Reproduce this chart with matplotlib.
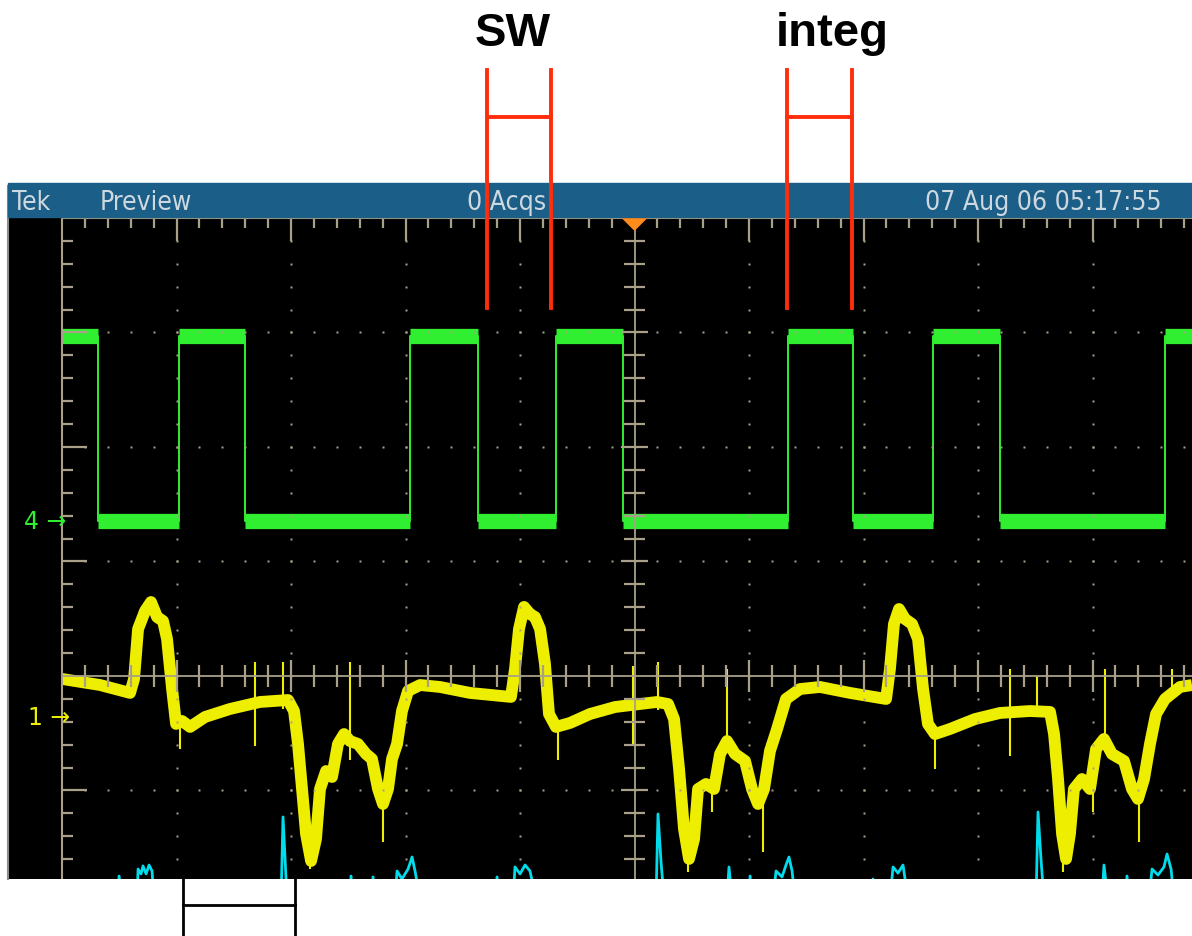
import numpy as np
import matplotlib.pyplot as plt
from matplotlib.patches import Rectangle, Polygon
from matplotlib.collections import LineCollection

# all positions in screen divisions: time 0..10 left to right, volts 0 on the centre line
# channel 4 (green) square wave, edge times, starts high
ch4_edges = [0.317, 1.022, 1.598, 3.039, 3.633, 4.314, 4.900, 6.341, 6.908, 7.607, 8.192, 9.633]
ch4_high = 2.97
ch4_low = 1.35

# channel 1 (yellow) trace
ch1_t = [0.0, 0.332, 0.594, 0.629, 0.664, 0.725, 0.777, 0.830, 0.882, 0.917, 0.961, 0.996,
         1.048, 1.118, 1.249, 1.467, 1.729, 1.974, 2.026, 2.061, 2.096, 2.131, 2.175, 2.218,
         2.253, 2.306, 2.358, 2.410, 2.463, 2.515, 2.585, 2.655, 2.707, 2.760, 2.803, 2.847,
         2.882, 2.926, 2.969, 3.022, 3.127, 3.301, 3.563, 3.921, 3.956, 3.991, 4.035, 4.087,
         4.131, 4.175, 4.218, 4.253, 4.314, 4.437, 4.611, 4.830, 4.978, 5.197, 5.293, 5.345,
         5.389, 5.432, 5.476, 5.520, 5.555, 5.624, 5.694, 5.747, 5.808, 5.878, 5.965, 6.026,
         6.079, 6.131, 6.183, 6.245, 6.323, 6.445, 6.620, 6.882, 7.197, 7.231, 7.266, 7.310,
         7.362, 7.424, 7.476, 7.520, 7.563, 7.624, 7.755, 7.974, 8.192, 8.454, 8.629, 8.664,
         8.699, 8.734, 8.769, 8.803, 8.838, 8.908, 8.978, 9.031, 9.100, 9.170, 9.275, 9.345,
         9.397, 9.450, 9.502, 9.555, 9.633, 9.764, 9.869]
ch1_v = [-0.026, -0.079, -0.148, -0.026, 0.410, 0.568, 0.646, 0.515, 0.480, 0.323, -0.114, -0.419,
         -0.393, -0.445, -0.358, -0.288, -0.227, -0.210, -0.306, -0.594, -0.987, -1.380, -1.616, -1.424,
         -0.987, -0.830, -0.882, -0.594, -0.507, -0.568, -0.594, -0.681, -0.725, -0.987, -1.118, -0.987,
         -0.725, -0.594, -0.306, -0.131, -0.079, -0.096, -0.148, -0.183, 0.061, 0.410, 0.603, 0.541,
         0.515, 0.410, 0.105, -0.332, -0.445, -0.410, -0.332, -0.271, -0.253, -0.227, -0.245, -0.376,
         -0.812, -1.336, -1.598, -1.424, -0.987, -0.943, -0.987, -0.681, -0.568, -0.681, -0.742, -0.987,
         -1.118, -0.987, -0.655, -0.463, -0.201, -0.114, -0.096, -0.148, -0.201, 0.061, 0.454, 0.585,
         0.498, 0.454, 0.323, -0.114, -0.419, -0.507, -0.463, -0.376, -0.323, -0.306, -0.314, -0.507,
         -0.900, -1.380, -1.598, -1.380, -0.987, -0.900, -0.987, -0.638, -0.550, -0.681, -0.742, -0.987,
         -1.074, -0.900, -0.594, -0.332, -0.201, -0.096, -0.079]

# noise spikes on channel 1: time, top, bottom
spike_t = [1.031, 1.686, 1.930, 2.166, 2.515, 2.803, 4.332, 4.987, 5.205, 5.467, 5.677,
           5.808, 6.122, 7.624, 8.279, 8.515, 8.742, 9.004, 9.109, 9.406, 9.694]
spike_top = [-0.40, 0.12, 0.12, -1.40, 0.12, -1.10, -0.45, 0.09, 0.12, -1.40, -0.95,
             0.06, -1.00, -0.50, 0.06, 0.00, -1.40, -0.95, 0.06, -1.07, 0.06]
spike_bot = [-0.64, -0.61, -0.29, -1.69, -0.73, -1.45, -0.73, -0.61, -0.30, -1.71, -1.19,
             -0.60, -1.54, -0.81, -0.70, -0.33, -1.71, -1.19, -0.60, -1.45, -0.20]

# third channel (cyan), mostly below the visible part of the screen
ch3_t = [0.0, 0.489, 0.498, 0.524, 0.655, 0.664, 0.690, 0.707, 0.734, 0.760, 0.786, 0.803,
         1.913, 1.930, 1.948, 1.965, 2.515, 2.524, 2.541, 2.707, 2.716, 2.734,
         2.908, 2.926, 2.969, 3.022, 3.057, 3.083, 3.127, 3.790, 3.799, 3.817,
         3.939, 3.956, 4.000, 4.044, 4.087, 4.140, 5.188, 5.205, 5.231, 5.258,
         5.808, 5.825, 5.852, 6.000, 6.009, 6.026, 6.210, 6.236, 6.288, 6.323, 6.349, 6.376, 6.402,
         7.074, 7.083, 7.100, 7.231, 7.258, 7.301, 7.345, 7.389, 8.507, 8.524, 8.550, 8.576,
         9.083, 9.100, 9.135, 9.293, 9.301, 9.319, 9.493, 9.520, 9.572, 9.624, 9.651, 9.686, 9.712, 9.869]
ch3_v = [-1.95, -1.95, -1.747, -1.95, -1.95, -1.686, -1.729, -1.659, -1.729, -1.651, -1.703, -1.95,
         -1.95, -1.231, -1.598, -1.95, -1.95, -1.747, -1.95, -1.95, -1.755, -1.95,
         -1.95, -1.703, -1.773, -1.686, -1.581, -1.703, -1.95, -1.95, -1.755, -1.95,
         -1.95, -1.668, -1.729, -1.651, -1.703, -1.95, -1.95, -1.205, -1.616, -1.95,
         -1.95, -1.668, -1.95, -1.95, -1.747, -1.95, -1.95, -1.703, -1.755, -1.651, -1.581, -1.703, -1.95,
         -1.95, -1.773, -1.95, -1.95, -1.668, -1.721, -1.651, -1.95, -1.95, -1.188, -1.598, -1.95,
         -1.95, -1.651, -1.95, -1.95, -1.747, -1.95, -1.95, -1.686, -1.738, -1.668, -1.555, -1.686, -1.95, -1.95]

ch4_marker = 1.354
ch1_marker = -0.358

# annotation spans (in divisions)
sw_span = [3.712, 4.271]
integ_span = [6.332, 6.897]
label_x = [3.94, 6.725]
bottom_span = [1.057, 2.035]

header = ["Tek", "Preview", "0 Acqs", "07 Aug 06 05:17:55"]
header_x = [-0.437, 0.332, 3.537, 7.537]

grat = '#a8a088'
green = '#30ee30'
yellow = '#eeee00'
cyan = '#00dcec'
red = '#ff2d0a'
hfont = ['DejaVu Sans']

fig = plt.figure(figsize=(11.92, 9.37), dpi=100)
ax = fig.add_axes([8/1192, 57/937, 1184/1192, 693/937])
ax.set_facecolor('black')
ax.set_xlim(-0.472, 9.869)
ax.set_ylim(-1.773, 4.279)
ax.set_xticks([])
ax.set_yticks([])
for s in ['top', 'right', 'bottom']:
    ax.spines[s].set_visible(False)
ax.spines['left'].set_color('#8c8c8c')
ax.spines['left'].set_linewidth(1.5)

# traces
ax.plot(ch3_t, ch3_v, color=cyan, lw=2.0, zorder=2)

times = [0.0] + ch4_edges + [9.869]
step_t, step_v = [], []
for i in range(len(times) - 1):
    lev = ch4_high if i % 2 == 0 else ch4_low
    ax.plot([times[i], times[i+1]], [lev, lev], color=green, lw=11,
            solid_capstyle='butt', zorder=3)
    step_t += [times[i], times[i+1]]
    step_v += [lev, lev]
ax.plot(step_t, step_v, color=green, lw=1.4, zorder=3)

ax.plot(ch1_t, ch1_v, color=yellow, lw=8.5, solid_joinstyle='round',
        solid_capstyle='butt', zorder=3)
ax.vlines(spike_t, spike_bot, spike_top, color=yellow, lw=1.5, zorder=3)

# graticule
ax.plot([0, 10], [0, 0], color=grat, lw=1.3, zorder=5)
ax.plot([5, 5], [-2, 4], color=grat, lw=1.3, zorder=5)
ax.plot([0, 10], [4, 4], color=grat, lw=1.5, zorder=5)
ax.plot([0, 0], [-2, 4], color=grat, lw=1.5, zorder=5)

segs = []
for x in np.arange(0.2, 9.9, 0.2):
    if abs(x - 5) < 0.01:
        continue
    major = abs(x - round(x)) < 0.01
    L = 0.2 if major else 0.09
    segs.append([(x, 4), (x, 4 - L)])
    h = 0.14 if major else 0.1
    segs.append([(x, -h), (x, h)])
for y in np.arange(-1.8, 3.9, 0.2):
    if abs(y) < 0.01:
        continue
    major = abs(y - round(y)) < 0.01
    L = 0.22 if major else 0.1
    segs.append([(0, y), (L, y)])
    h = 0.12 if major else 0.09
    segs.append([(5 - h, y), (5 + h, y)])
ax.add_collection(LineCollection(segs, colors=grat, linewidths=1.6, zorder=5))

dx, dy = [], []
for x in range(1, 10):
    if x == 5:
        continue
    for y in np.arange(-1.8, 4.0, 0.2):
        dx.append(x)
        dy.append(y)
for y in [-1, 1, 2, 3]:
    for x in np.arange(0.2, 9.9, 0.2):
        dx.append(x)
        dy.append(y)
ax.plot(dx, dy, 's', ms=1.6, color=grat, mec='none', zorder=5)

ax.add_patch(Polygon([(4.895, 4.0), (5.105, 4.0), (5.0, 3.895)], closed=True,
                     color='#ff8c1a', zorder=6))

# header bar
ax.add_patch(Rectangle((-0.472, 4.005), 10.5, 0.3, color='#1b5e88', zorder=6, clip_on=False))
for txt, x in zip(header, header_x):
    ax.text(x, 4.14, txt, color='#cdd8df', fontsize=19, family=hfont,
            fontstretch='condensed', va='center', ha='left', zorder=7)

ax.text(-0.33, ch4_marker, '4 \u2192', color=green, fontsize=17, family=hfont,
        va='center', ha='left', zorder=7)
ax.text(-0.30, ch1_marker, '1 \u2192', color=yellow, fontsize=17, family=hfont,
        va='center', ha='left', zorder=7)

# annotations
for span, lx, label in [(sw_span, label_x[0], 'SW'), (integ_span, label_x[1], 'integ')]:
    for x in span:
        ax.plot([x, x], [3.214, 5.295], color=red, lw=2.8, clip_on=False, zorder=10)
    ax.plot(span, [4.882, 4.882], color=red, lw=2.8, clip_on=False, zorder=10)
    ax.text(lx, 5.51, label, fontsize=34, fontweight='bold',
            family=['Liberation Sans', 'DejaVu Sans'], ha='center', va='baseline',
            clip_on=False)

for x in bottom_span:
    ax.plot([x, x], [-1.773, -2.4], color='black', lw=2, clip_on=False, zorder=10)
ax.plot(bottom_span, [-2.0, -2.0], color='black', lw=2, clip_on=False, zorder=10)

plt.savefig('out.png', dpi=100)
